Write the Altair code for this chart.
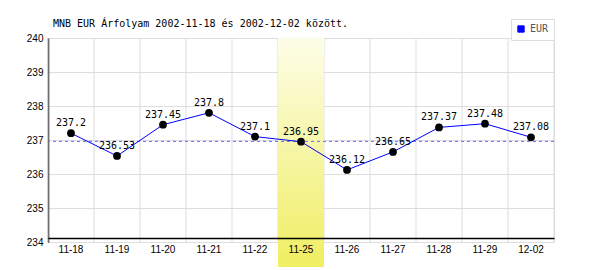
import altair as alt
import pandas as pd

dates = ["11-18", "11-19", "11-20", "11-21", "11-22", "11-25",
         "11-26", "11-27", "11-28", "11-29", "12-02"]
rates = [237.2, 236.53, 237.45, 237.8, 237.1, 236.95,
         236.12, 236.65, 237.37, 237.48, 237.08]
series = "EUR"
average = 236.96
highlight = ["11-25"]
y_ticks = [234, 235, 236, 237, 238, 239, 240]
title_text = "MNB EUR Árfolyam 2002-11-18 és 2002-12-02 között."

FONT = "DejaVu Sans Mono"

df = pd.DataFrame({"date": dates, "rate": rates, "series": [series] * len(dates)})

x_scale = alt.Scale(domain=dates, paddingInner=0, paddingOuter=0)
x_axis = alt.Axis(
    title=None, domainColor="black", domainWidth=1.5, ticks=False,
    labelPadding=6, labelAngle=0, labelAlign="center", offset=-4, grid=False,
    zindex=1,
)
y_scale = alt.Scale(domain=[234, 240], nice=False, zero=False)
y_axis = alt.Axis(
    title=None, values=y_ticks, domainColor="black", domainWidth=1.5,
    ticks=False, labelPadding=5, grid=True, gridColor="#dddddd",
)

# vertical grid lines at the band edges
grid_start = alt.Chart(pd.DataFrame({"date": dates})).mark_rule(
    color="#dddddd", strokeWidth=1
).encode(x=alt.X("date:N", sort=dates, scale=x_scale, axis=x_axis, bandPosition=0))
grid_end = alt.Chart(pd.DataFrame({"date": dates[-1:]})).mark_rule(
    color="#dddddd", strokeWidth=1
).encode(x=alt.X("date:N", sort=dates, scale=x_scale, axis=x_axis, bandPosition=1))

band = alt.Chart(pd.DataFrame({"date": highlight})).mark_rect(
    clip=False,
    fill={
        "gradient": "linear",
        "x1": 0, "x2": 0, "y1": 0, "y2": 1,
        "stops": [
            {"offset": 0, "color": "#fdfde8"},
            {"offset": 1, "color": "#f0ee62"},
        ],
    },
).encode(
    x=alt.X("date:N", sort=dates, scale=x_scale, axis=x_axis),
    y=alt.value(0),
    y2=alt.value(229),
)

avg_rule = alt.Chart(pd.DataFrame({"avg": [average]})).mark_rule(
    color="#6666ff", strokeDash=[3, 3], strokeWidth=1
).encode(y=alt.Y("avg:Q", scale=y_scale, axis=y_axis))

base = alt.Chart(df).encode(
    x=alt.X("date:N", sort=dates, scale=x_scale, axis=x_axis),
    y=alt.Y("rate:Q", scale=y_scale, axis=y_axis),
)

line = base.mark_line(strokeWidth=1).encode(
    color=alt.Color(
        "series:N",
        scale=alt.Scale(domain=[series], range=["#0000ff"]),
        legend=alt.Legend(
            title=None, orient="none", legendX=463, legendY=-19,
            symbolType="square", symbolSize=40, symbolFillColor="#0000ff",
            symbolStrokeColor="#555555", symbolStrokeWidth=1,
            labelFont=FONT, labelFontSize=10, labelColor="#555555",
            strokeColor="#dddddd", fillColor="white", padding=5,
        ),
    )
)

points = base.mark_circle(color="black", size=60, opacity=1)

labels = base.mark_text(
    dy=-10, font=FONT, fontSize=10, color="black", baseline="middle"
).encode(text=alt.Text("rate:Q"))

title = alt.Chart(pd.DataFrame({"t": [title_text]})).mark_text(
    align="left", baseline="alphabetic", font=FONT, fontSize=10, color="black"
).encode(x=alt.value(5), y=alt.value(-11), text="t:N")

chart = alt.layer(grid_start, grid_end, band, avg_rule, line, points, labels, title).properties(
    width=506,
    height=204,
    autosize=alt.AutoSizeParams(type="none"),
    padding={"left": 48, "top": 38, "right": 46, "bottom": 28},
).configure_view(stroke=None).configure_axis(
    labelFont=FONT, labelFontSize=10, labelColor="#666666",
).configure(background="white")

chart.save("out.html", embed_options={"renderer": "svg", "actions": False})
